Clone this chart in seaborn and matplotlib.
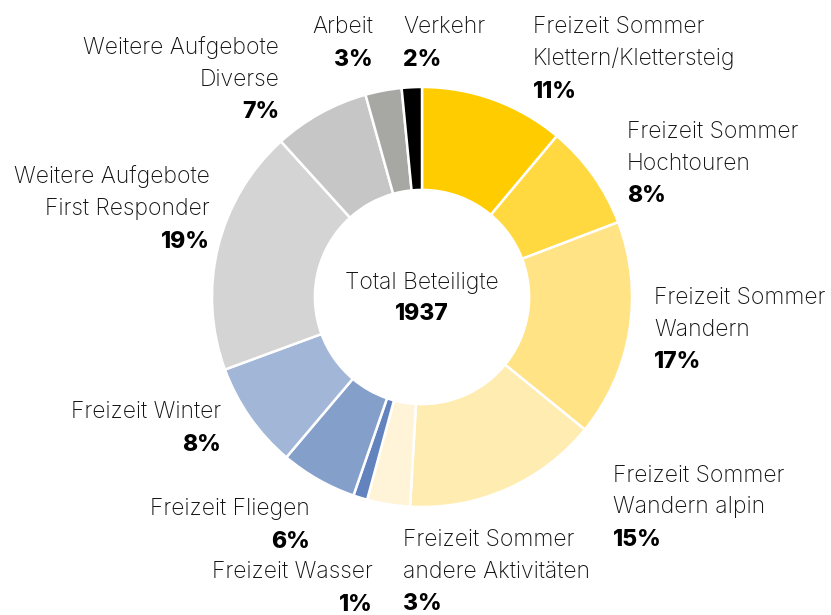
import matplotlib
matplotlib.use("Agg")
import matplotlib.pyplot as plt
import seaborn as sns
import numpy as np

# data (counts, total 1937)
categories = [
    "Freizeit Sommer\nKlettern/Klettersteig",
    "Freizeit Sommer\nHochtouren",
    "Freizeit Sommer\nWandern",
    "Freizeit Sommer\nWandern alpin",
    "Freizeit Sommer\nandere Aktivitäten",
    "Freizeit Wasser",
    "Freizeit Fliegen",
    "Freizeit Winter",
    "Weitere Aufgebote\nFirst Responder",
    "Weitere Aufgebote\nDiverse",
    "Arbeit",
    "Verkehr",
]
counts = [215, 157, 323, 291, 64, 21, 114, 159, 366, 143, 54, 30]
colors = ["#FFCC00", "#FFD93F", "#FFE385", "#FFECB0", "#FFF4D8",
          "#6383BF", "#84A0CA", "#A2B6D8", "#D4D4D4", "#C6C6C6",
          "#A7A8A3", "#000000"]
total_label = "Total Beteiligte"

# label anchors in pixels: (x, y of first line, alignment)
label_pos = [
    (533, 27, "left"), (627, 132, "left"), (654, 298, "left"),
    (613, 476, "left"), (403, 540, "left"), (373, 572, "right"),
    (310, 509, "right"), (221, 412, "right"), (210, 177, "right"),
    (279, 48, "right"), (373, 27, "right"), (403, 27, "left"),
]

sns.set_theme(style="white")
plt.rcParams["font.family"] = ["Inter", "DejaVu Sans"]

W, H = 831, 615
cx, cy, R = 422, 297, 210
fig = plt.figure(figsize=(W / 100, H / 100), dpi=100)
ax = fig.add_axes([(cx - R) / W, (H - cy - R) / H, 2 * R / W, 2 * R / H])

ax.pie(counts, colors=colors, startangle=90, counterclock=False,
       radius=1.0, wedgeprops=dict(width=0.49, edgecolor="white", linewidth=1.8))
ax.set_xlim(-1, 1)
ax.set_ylim(-1, 1)
ax.axis("off")

def to_data(px, py):
    return (px - cx) / R, (cy - py) / R

step = 31.5
fs = 16.5
total = sum(counts)
for name, n, (px, py, ha) in zip(categories, counts, label_pos):
    lines = name.split("\n")
    for i, line in enumerate(lines):
        x, y = to_data(px, py + i * step)
        ax.text(x, y, line, ha=ha, va="center", fontsize=fs,
                fontweight="light", color="#111111", clip_on=False)
    x, y = to_data(px, py + len(lines) * step + 1.5)
    ax.text(x, y, f"{round(100 * n / total)}%", ha=ha, va="center",
            fontsize=fs, fontweight="heavy", color="black", clip_on=False)

x, y = to_data(cx, 283)
ax.text(x, y, total_label, ha="center", va="center", fontsize=fs,
        fontweight="light", color="#111111")
x, y = to_data(cx, 314)
ax.text(x, y, f"{total}", ha="center", va="center", fontsize=fs,
        fontweight="heavy", color="black")

fig.savefig("out.png", dpi=100)
